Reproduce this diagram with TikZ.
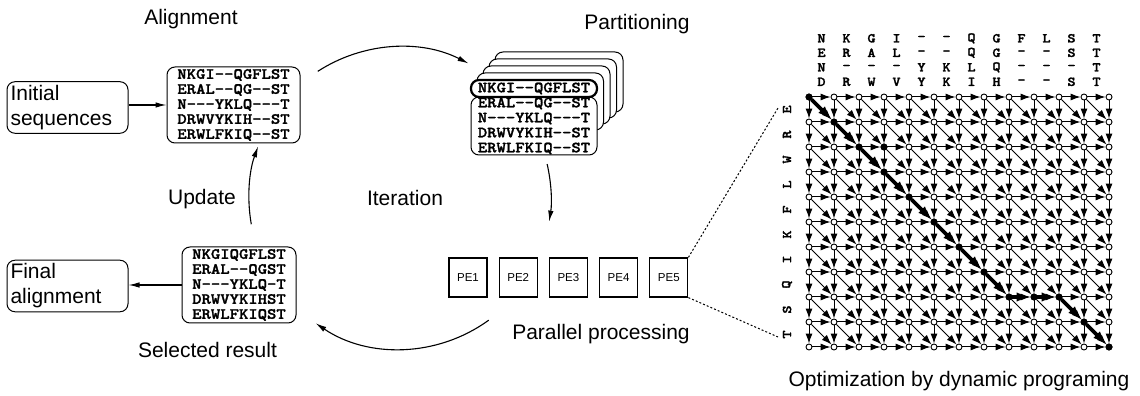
\documentclass[tikz,border=0pt]{standalone}
\usepackage{fontspec}
\setmainfont{Liberation Sans}
\setmonofont[FakeStretch=1.15,FakeBold=1.6]{lmmonolt10-bold.otf}
\usepackage{tikz}
\usetikzlibrary{arrows.meta}
\usetikzlibrary{positioning}

\newcommand{\cyclefont}{\fontsize{21}{25}\selectfont}
\newcommand{\seqfont}{\ttfamily\fontsize{15.5}{15}\selectfont}
\newcommand{\gridfont}{\ttfamily\fontsize{13.5}{13.5}\selectfont}
\newcommand{\pefont}{\fontsize{11.5}{12}\selectfont}

\tikzset{
  caption/.style={font=\cyclefont, inner sep=0pt},
  namebox/.style={draw, rounded corners=8pt, align=left, text width=114pt,
    inner sep=3.5pt, font=\cyclefont, line width=1pt},
  seqbox/.style={draw, rounded corners=8pt, align=left, fill=white,
    inner sep=0pt, font=\seqfont, line width=1pt},
  pebox/.style={draw, minimum width=38pt, minimum height=39pt,
    inner sep=0pt, font=\pefont, line width=1.2pt},
  dpnode/.style={circle, draw, fill=white, inner sep=0pt,
    minimum size=6pt, line width=0.9pt},
  dparrow/.style={-{Latex[length=10pt,width=7pt]}, line width=1pt},
  bestarrow/.style={-{Latex[length=14pt,width=9.5pt]}, line width=3.6pt},
  seqletter/.style={font=\gridfont, inner sep=0pt},
  zoomline/.style={dash pattern=on 2pt off 2pt, line width=1pt}
}

\begin{document}
\begin{tikzpicture}[x=1pt, y=1pt,
      >={Latex[length=11pt,width=5.5pt]},
      line width=1.1pt]

    \useasboundingbox (0,0) rectangle (1140,396);

    % alignment cycle
    \node[namebox, minimum height=49pt]
      (initial) at (67.5,288.5) {Initial\\sequences};
    \node[seqbox, minimum width=133pt, minimum height=76pt]
      (align1) at (233.5,291) {NKGI--QGFLST\\ERAL--QG--ST\\N---YKLQ---T\\DRWVYKIH--ST\\ERWLFKIQ--ST};
    \node[seqbox, minimum width=114pt, minimum height=76pt]
      (selected) at (239,111) {NKGIQGFLST\\ERAL--QGST\\N---YKLQ-T\\DRWVYKIHST\\ERWLFKIQST};
    \node[namebox, minimum height=48pt]
      (final) at (67.5,110) {Final\\alignment};

    \node[caption] (alignment) at (191,376.5) {Alignment};
    \node[caption] (partitioning) at (637,372) {Partitioning};
    \node[caption] (update) at (202,197) {Update};
    \node[caption] (iteration) at (405,198) {Iteration};
    \node[caption] (selres) at (207.5,46) {Selected result};
    \node[caption] (parallel) at (601,62) {Parallel processing};
    \node[caption] (dynprog) at (959,15) {Optimization by dynamic programing};

    \draw[->] (initial.east |- align1.west) -- (align1.west);
    \draw[->] (selected.west) -- (selected.west -| final.east);

    % partitioned copies
    \foreach \k in {4,3,2,1}
      \draw[rounded corners=8pt, fill=white, line width=1pt]
        ({471+6*\k},{260+6*\k}) rectangle ({597+6.5*\k},{316+7*\k});
    \node[seqbox, minimum width=126pt, minimum height=58pt]
      (partrest) at (534,270) {ERAL--QG--ST\\N---YKLQ---T\\DRWVYKIH--ST\\ERWLFKIQ--ST};
    \node[seqbox, minimum width=126pt, minimum height=17pt, line width=2.2pt]
      (part1) at (534,307.5) {NKGI--QGFLST};

    % processing elements
    \node[pebox] (pe1) at (468,118.5) {PE1};
    \node[pebox, right=11pt of pe1] (pe2) {PE2};
    \node[pebox, right=11pt of pe2] (pe3) {PE3};
    \node[pebox, right=11pt of pe3] (pe4) {PE4};
    \node[pebox, right=11pt of pe4] (pe5) {PE5};

    % the four arcs round the loop
    \coordinate (cyc) at (400,198);
    \path (cyc) ++(123:151) coordinate (c-align)
          (cyc) ++(13:151) coordinate (c-part)
          (cyc) ++(-54:151) coordinate (c-pe)
          (cyc) ++(190:151) coordinate (c-sel);
    \draw[->] (c-align) arc[start angle=123, end angle=63, radius=151];
    \draw[->] (c-part) arc[start angle=13, end angle=-9, radius=151];
    \draw[->] (c-pe) arc[start angle=-54, end angle=-124, radius=151];
    \draw[->] (c-sel) arc[start angle=190, end angle=160, radius=151];

    % dynamic programming lattice
    \foreach \c in {0,...,12}
      \foreach \r in {0,...,10}
        \node[dpnode] (n-\c-\r) at ({809+25*\c},{299-25*\r}) {};

    \foreach \c in {0,...,11}
      \foreach \r in {0,...,9} {
        \pgfmathtruncatemacro{\cn}{\c+1}
        \pgfmathtruncatemacro{\rn}{\r+1}
        \draw[dparrow] (n-\c-\r) -- (n-\cn-\r);
        \draw[dparrow] (n-\c-\r) -- (n-\c-\rn);
        \draw[dparrow] (n-\c-\r) -- (n-\cn-\rn);
      }
    \foreach \c in {0,...,11} {
      \pgfmathtruncatemacro{\cn}{\c+1}
      \draw[dparrow] (n-\c-10) -- (n-\cn-10);
    }
    \foreach \r in {0,...,9} {
      \pgfmathtruncatemacro{\rn}{\r+1}
      \draw[dparrow] (n-12-\r) -- (n-12-\rn);
    }

    \foreach \a/\b in {0-0/1-1, 1-1/2-2, 2-2/3-3, 3-3/4-4, 4-4/5-5, 5-5/6-6,
                       6-6/7-7, 7-7/8-8, 8-8/9-8, 9-8/10-8, 10-8/11-9, 11-9/12-10}
      \draw[bestarrow] (n-\a) -- (n-\b);
    \foreach \c/\r in {0/0, 1/1, 2/2, 3/2, 3/3, 4/4, 5/5, 6/6, 7/7, 8/8,
                       9/8, 10/8, 11/9, 12/10}
      \node[dpnode, fill=black] (best-\c-\r) at (n-\c-\r) {};

    % profile along the top, sequence down the side
    \foreach \seq [count=\r from 0] in {{N,K,G,I,-,-,Q,G,F,L,S,T},
                                        {E,R,A,L,-,-,Q,G,-,-,S,T},
                                        {N,-,-,-,Y,K,L,Q,-,-,-,T},
                                        {D,R,W,V,Y,K,I,H,-,-,S,T}}
      \foreach \ch [count=\c from 0] in \seq
        \node[seqletter] (h-\r-\c) at ({821.5+25*\c},{357.7-14.5*\r}) {\ch};
    \foreach \ch [count=\r from 0] in {E,R,W,L,F,K,I,Q,S,T}
      \node[seqletter, rotate=90] (s-\r) at (787,{286.5-25*\r}) {\ch};

    \coordinate (zoom-top) at (778,288);
    \coordinate (zoom-bottom) at (778,59);
    \draw[zoomline] (pe5.north east) -- (zoom-top);
    \draw[zoomline] (pe5.south east) -- (zoom-bottom);

  \end{tikzpicture}
\end{document}
